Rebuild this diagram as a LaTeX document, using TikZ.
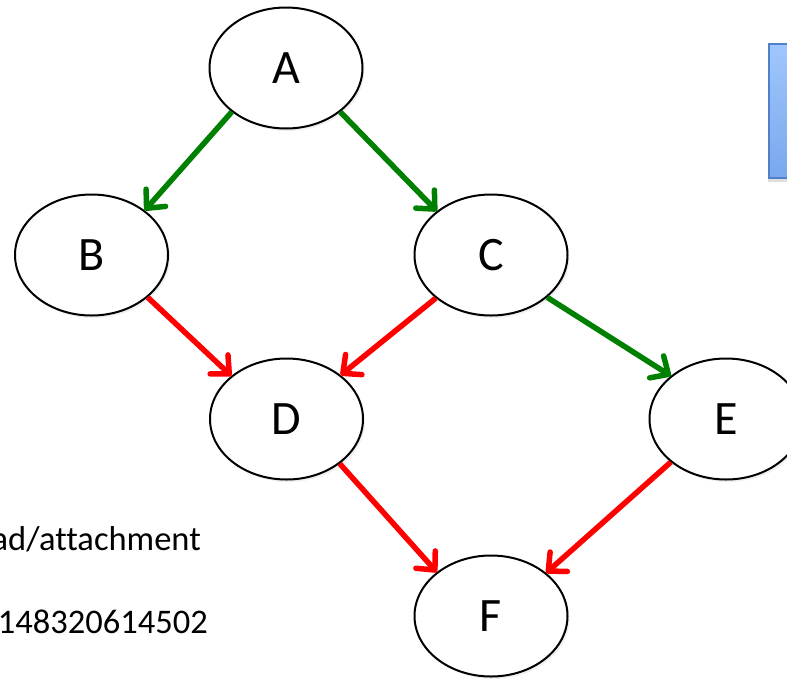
\documentclass[tikz,border=0pt]{standalone}
\usepackage{fontspec}
\setmainfont{Carlito}[Ligatures=NoCommon]
\usetikzlibrary{arrows.meta,shapes.geometric,shadows}
\definecolor{arrgreen}{RGB}{0,128,0}
\definecolor{arrred}{RGB}{255,0,0}
\definecolor{boxtop}{RGB}{160,198,252}
\definecolor{boxbot}{RGB}{122,168,238}
\definecolor{boxline}{RGB}{80,128,200}
\begin{document}
\begin{tikzpicture}[x=1pt,y=-1pt,
  state/.style={ellipse, draw=black, line width=2pt, fill=white,
    minimum width=153pt, minimum height=121pt, inner sep=0pt,
    font=\fontsize{48}{48}\selectfont,
    drop shadow={opacity=0.12, shadow xshift=2pt, shadow yshift=-2.5pt}},
  gedge/.style={draw=arrgreen, line width=5.5pt,
    -{Straight Barb[length=14pt,width=26pt,round]}},
  redge/.style={gedge, draw=arrred},
  note/.style={font=\fontsize{34.5}{34.5}\selectfont, inner sep=0pt},
  bluebox/.style={draw=boxline, line width=2pt, top color=boxtop, bottom color=boxbot,
    minimum width=44pt, minimum height=134pt, inner sep=0pt,
    drop shadow={opacity=0.25, shadow xshift=-1pt, shadow yshift=-4pt}}
]
\useasboundingbox (0,0) rectangle (787,678);
\node[bluebox, anchor=north west] (box) at (768,43) {};
\node[note, anchor=base east] (t1) at (201,550) {ad/attachment};
\node[note, anchor=base east] (t2) at (208,633) {148320614502};

\node[state] (A) at (286,68) {A};
\node[state] (B) at (91.5,255) {B};
\node[state] (C) at (491,255) {C};
\node[state] (D) at (286.5,419) {D};
\node[state] (E) at (726,419) {E};
\node[state] (F) at (491,616) {F};

\draw[gedge] (A.219) -- (B.40);
\draw[gedge] (A.321) -- (C.141);
\draw[redge] (B.-37) -- (D.142);
\draw[redge] (C.218) -- (D.39);
\draw[gedge] (C.-37) -- (E.142);
\draw[redge] (D.-40) -- (F.141);
\draw[redge] (E.218) -- (F.38);
\end{tikzpicture}
\end{document}
